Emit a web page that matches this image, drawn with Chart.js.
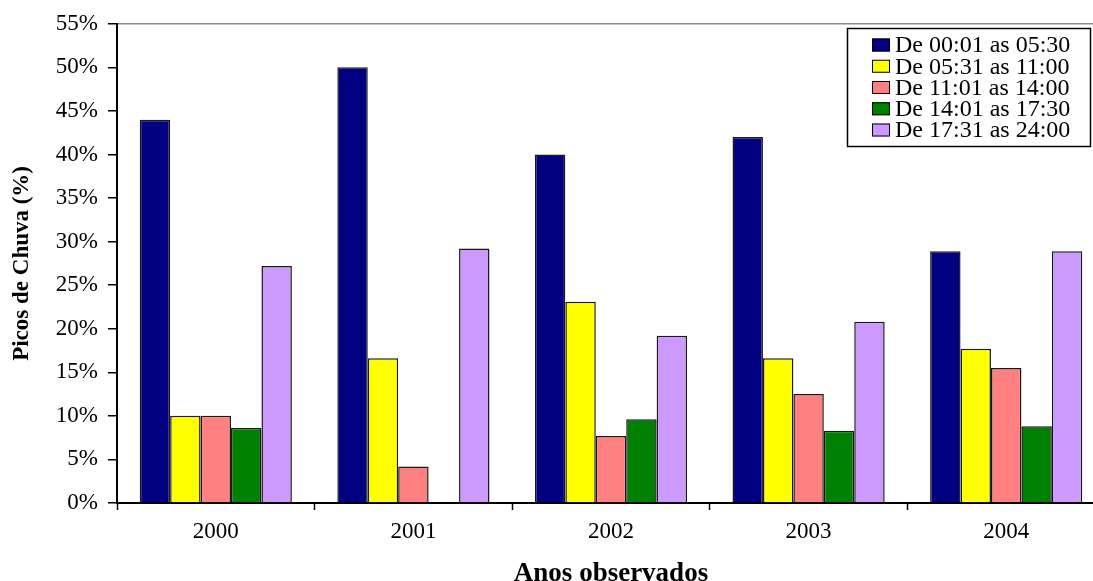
<!DOCTYPE html>
<html>
<head>
<meta charset="utf-8">
<script src="https://cdn.jsdelivr.net/npm/chart.js@4/dist/chart.umd.min.js"></script>
<style>
  html, body { margin: 0; padding: 0; background: #fff; overflow: hidden; }
  #wrap { position: relative; width: 1115px; height: 581px; }
</style>
</head>
<body>
<div id="wrap"><canvas id="c"></canvas></div>
<script>
// Years on the horizontal axis
const years = ['2000', '2001', '2002', '2003', '2004'];

// Share of rain peaks (%) per time window
const window1 = [44.0, 50.0, 40.0, 42.0, 28.9];   // De 00:01 as 05:30
const window2 = [10.0, 16.6, 23.1, 16.6, 17.7];   // De 05:31 as 11:00
const window3 = [10.0, 4.2, 7.7, 12.5, 15.5];     // De 11:01 as 14:00
const window4 = [8.6, 0, 9.6, 8.3, 8.8];          // De 14:01 as 17:30
const window5 = [27.2, 29.2, 19.2, 20.8, 28.9];   // De 17:31 as 24:00

const seriesLabels = ['De 00:01 as 05:30', 'De 05:31 as 11:00', 'De 11:01 as 14:00', 'De 14:01 as 17:30', 'De 17:31 as 24:00'];
const seriesColors = ['#000080', '#FFFF00', '#FF8080', '#008000', '#CC99FF'];

const yAxisTitle = 'Picos de Chuva (%)';
const xAxisTitle = 'Anos observados';
const yMax = 55;
const yStep = 5;

const serif = "'Liberation Serif', 'Times New Roman', serif";

const allSeries = [window1, window2, window3, window4, window5];
const datasets = allSeries.map((vals, i) => ({
  label: seriesLabels[i],
  data: vals,
  backgroundColor: seriesColors[i],
  borderColor: 'rgba(0,0,0,0.9)',
  borderWidth: ctx => (ctx.raw === 0 ? 0 : 1.5),
  borderSkipped: 'start'
}));

// Boxed legend inside the plot, top right
const boxLegend = {
  id: 'boxLegend',
  afterDraw(chart) {
    const ctx = chart.ctx;
    const x0 = 847, y0 = 28, w = 243, h = 118;
    ctx.save();
    ctx.fillStyle = '#fff';
    ctx.fillRect(x0, y0, w, h);
    ctx.strokeStyle = '#000';
    ctx.lineWidth = 1.5;
    ctx.strokeRect(x0 + 0.5, y0 + 0.5, w, h);
    ctx.font = '24px ' + serif;
    ctx.textBaseline = 'middle';
    ctx.textAlign = 'left';
    chart.data.datasets.forEach((ds, i) => {
      const cy = 45 + i * 21.25;
      ctx.fillStyle = ds.backgroundColor;
      ctx.fillRect(872, cy - 6.5, 18, 13);
      ctx.strokeStyle = '#000';
      ctx.lineWidth = 1;
      ctx.strokeRect(872.5, cy - 6, 17, 12);
      ctx.fillStyle = '#000';
      ctx.fillText(ds.label, 895, cy + 1);
    });
    ctx.restore();
  }
};

new Chart(document.getElementById('c'), {
  type: 'bar',
  data: { labels: years, datasets },
  options: {
    responsive: true,
    maintainAspectRatio: false,
    animation: false,
    layout: { padding: { top: 20, right: 10, left: 0, bottom: 0 } },
    plugins: { legend: { display: false }, tooltip: { enabled: false } },
    datasets: { bar: { categoryPercentage: 0.77, barPercentage: 1.0 } },
    scales: {
      x: {
        grid: {
          offset: true,
          drawOnChartArea: false,
          drawTicks: true,
          tickLength: 7,
          tickWidth: 1.5,
          tickColor: '#000'
        },
        border: { display: true, color: '#000', width: 2 },
        ticks: { color: '#000', font: { family: serif, size: 23 }, padding: 8, maxRotation: 0 },
        title: {
          display: true,
          text: xAxisTitle,
          color: '#000',
          font: { family: serif, size: 27, weight: 'bold', lineHeight: 0.55 },
          padding: { top: 0, bottom: 0 }
        },
        afterFit(scale) { scale.height = 78; }
      },
      y: {
        min: 0,
        max: yMax,
        grid: {
          drawOnChartArea: true,
          color: ctx => (ctx.tick && ctx.tick.value === yMax ? '#8c8c8c' : 'rgba(0,0,0,0)'),
          lineWidth: 1.5,
          drawTicks: true,
          tickLength: 9,
          tickWidth: 1.5,
          tickColor: '#000'
        },
        border: { display: true, color: '#000', width: 2 },
        ticks: {
          stepSize: yStep,
          color: '#000',
          font: { family: serif, size: 23 },
          padding: 10,
          callback: v => v + '%'
        },
        title: {
          display: true,
          text: yAxisTitle,
          color: '#000',
          font: { family: serif, size: 23, weight: 'bold', lineHeight: 1 },
          padding: { top: 11, bottom: 0 }
        },
        afterFit(scale) { scale.width = 117; }
      }
    }
  },
  plugins: [boxLegend]
});
</script>
</body>
</html>
